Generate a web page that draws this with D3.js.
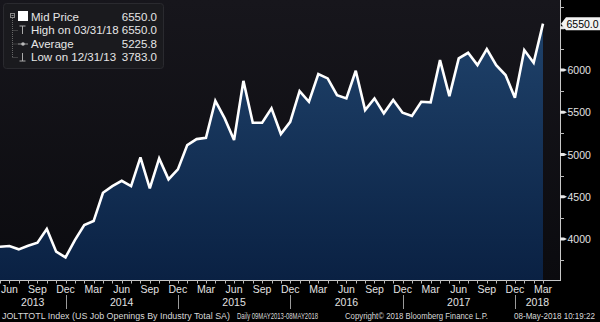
<!DOCTYPE html>
<html>
<head>
<meta charset="utf-8">
<script src="https://cdn.jsdelivr.net/npm/d3@7.9.0/dist/d3.min.js"></script>
<style>
  html, body { margin: 0; padding: 0; background: #000; }
  svg { display: block; font-family: "Liberation Sans", Arial, sans-serif; }
</style>
</head>
<body>
<svg id="chart" width="600" height="322"></svg>
<script>
// monthly JOLTS job openings (thousands), month-end points
const months = [
  '2013-05','2013-06','2013-07','2013-08','2013-09','2013-10','2013-11','2013-12',
  '2014-01','2014-02','2014-03','2014-04','2014-05','2014-06','2014-07','2014-08','2014-09','2014-10','2014-11','2014-12',
  '2015-01','2015-02','2015-03','2015-04','2015-05','2015-06','2015-07','2015-08','2015-09','2015-10','2015-11','2015-12',
  '2016-01','2016-02','2016-03','2016-04','2016-05','2016-06','2016-07','2016-08','2016-09','2016-10','2016-11','2016-12',
  '2017-01','2017-02','2017-03','2017-04','2017-05','2017-06','2017-07','2017-08','2017-09','2017-10','2017-11','2017-12',
  '2018-01','2018-02','2018-03'
];
const values = [
  3909, 3917, 3878, 3921, 3956, 4118, 3850, 3783,
  3988, 4166, 4213, 4548, 4627, 4690, 4627, 4967, 4600, 4955, 4706, 4825,
  5112, 5183, 5199, 5637, 5428, 5172, 5873, 5376, 5376, 5547, 5243, 5388,
  5751, 5625, 5953, 5902, 5704, 5665, 5992, 5527, 5665, 5488, 5645, 5495,
  5456, 5625, 5618, 6118, 5692, 6138, 6205, 6059, 6248, 6059, 5941, 5672,
  6237, 6086, 6550
];
const yTicks = [4000, 4500, 5000, 5500, 6000, 6500];
const yMinorTicks = [3750, 4250, 4750, 5250, 5750, 6250, 6750];
const labelMonths = ['Mar', 'Jun', 'Sep', 'Dec'];
const avgValue = 5225.8;
const highDate = '03/31/18';
const lowDate = '12/31/13';

const plotW = 560, plotH = 280;
const parse = d3.timeParse('%Y-%m');
const fmtMonth = d3.timeFormat('%b');
const fmtYear = d3.timeFormat('%Y');
const data = months.map((m, i) => ({ key: m, date: parse(m), value: values[i] }));

const x = d3.scalePoint().domain(months).range([0, 543]);
const y = d3.scaleLinear().domain([3515, 6830]).range([plotH, 0]);

const svg = d3.select('#chart');
const defs = svg.append('defs');

const bg = defs.append('linearGradient').attr('id', 'bg').attr('x1', 0).attr('y1', 0).attr('x2', 0).attr('y2', 1);
bg.append('stop').attr('offset', '0%').attr('stop-color', '#17161c');
bg.append('stop').attr('offset', '100%').attr('stop-color', '#0b0b0f');

const fill = defs.append('linearGradient').attr('id', 'areaFill')
  .attr('gradientUnits', 'userSpaceOnUse').attr('x1', 0).attr('y1', 0).attr('x2', 0).attr('y2', plotH);
fill.append('stop').attr('offset', '0%').attr('stop-color', '#21456e');
fill.append('stop').attr('offset', '100%').attr('stop-color', '#0a2143');

// plot background
svg.append('rect').attr('x', 0).attr('y', 0).attr('width', plotW).attr('height', plotH).attr('fill', 'url(#bg)');

// area + line
const area = d3.area().x(d => x(d.key)).y0(plotH).y1(d => y(d.value));
const line = d3.line().x(d => x(d.key)).y(d => y(d.value));

svg.append('path').datum(data).attr('d', area).attr('fill', 'url(#areaFill)');
svg.append('path').datum(data).attr('d', line)
  .attr('fill', 'none').attr('stroke', '#fff').attr('stroke-width', 2.6)
  .attr('stroke-linejoin', 'miter').attr('stroke-miterlimit', 3);

// frame
svg.append('line').attr('x1', 0).attr('x2', plotW).attr('y1', plotH + 0.5).attr('y2', plotH + 0.5)
  .attr('stroke', '#c8c8c8').attr('stroke-width', 1);
svg.append('line').attr('x1', plotW + 0.5).attr('x2', plotW + 0.5).attr('y1', 0).attr('y2', plotH + 1)
  .attr('stroke', '#c8c8c8').attr('stroke-width', 1);

// y axis ticks + labels
svg.selectAll('.minor').data(yMinorTicks).join('line')
  .attr('x1', plotW).attr('x2', plotW + 4)
  .attr('y1', d => Math.round(y(d)) + 0.5).attr('y2', d => Math.round(y(d)) + 0.5)
  .attr('stroke', '#bbb').attr('stroke-width', 1);

svg.selectAll('.major').data(yTicks).join('path')
  .attr('d', d => {
    const ty = y(d);
    return `M${plotW},${ty - 1.5}L${plotW + 4},${ty - 1.5}L${plotW + 7},${ty}L${plotW + 4},${ty + 1.5}L${plotW},${ty + 1.5}Z`;
  })
  .attr('fill', '#e6e6e6');

// last value marker (hides the tick label it sits on, as in the terminal)
const last = data[data.length - 1];
const ly = y(last.value);
const visibleTicks = yTicks.filter(t => Math.abs(y(t) - ly) > 12);

svg.selectAll('.ylab').data(visibleTicks).join('text')
  .attr('x', plotW + 7.5).attr('y', d => y(d) + 4)
  .attr('fill', '#e2e2e2').attr('font-size', 10.5)
  .text(d => d);

svg.append('path')
  .attr('d', `M${plotW + 1},${ly}L${plotW + 6},${ly - 6.5}L600,${ly - 6.5}L600,${ly + 6.5}L${plotW + 6},${ly + 6.5}Z`)
  .attr('fill', '#f2f2f2');
svg.append('text').attr('x', plotW + 6.5).attr('y', ly + 4)
  .attr('fill', '#000').attr('font-size', 10.5).text(last.value.toFixed(1));

// x axis: month ticks
svg.selectAll('.mtick').data(data).join('line')
  .attr('x1', d => Math.round(x(d.key)) + 0.5).attr('x2', d => Math.round(x(d.key)) + 0.5)
  .attr('y1', plotH).attr('y2', plotH + 3.5)
  .attr('stroke', '#bbb').attr('stroke-width', 1);

const quarterData = data.filter(d => labelMonths.includes(fmtMonth(d.date)));
svg.selectAll('.mlab').data(quarterData).join('text')
  .attr('x', d => Math.max(x(d.key), 8)).attr('y', 293)
  .attr('text-anchor', 'middle')
  .attr('fill', '#e2e2e2').attr('font-size', 10.5)
  .text(d => fmtMonth(d.date));

// year labels + separators
const years = Array.from(new Set(data.map(d => fmtYear(d.date))));
const decs = data.filter(d => fmtMonth(d.date) === 'Dec');
svg.selectAll('.ysep').data(decs).join('line')
  .attr('x1', d => Math.round(x(d.key)) + 0.5).attr('x2', d => Math.round(x(d.key)) + 0.5)
  .attr('y1', 295).attr('y2', 309)
  .attr('stroke', '#9a9a9a').attr('stroke-width', 1);

svg.selectAll('.yrlab').data(years).join('text')
  .attr('x', yr => {
    const prevDec = decs.find(d => fmtYear(d.date) === String(+yr - 1));
    const thisDec = decs.find(d => fmtYear(d.date) === yr);
    const x0 = prevDec ? x(prevDec.key) : 0;
    const x1 = thisDec ? x(thisDec.key) : plotW;
    return (x0 + x1) / 2;
  })
  .attr('y', 306)
  .attr('text-anchor', 'middle')
  .attr('fill', '#e2e2e2').attr('font-size', 10.5)
  .text(yr => yr);

// footer
const footer = [
  { t: 'JOLTTOTL Index (US Job Openings By Industry Total SA)', x: 2, w: 228 },
  { t: 'Daily 09MAY2013-08MAY2018', x: 237, w: 81 },
  { t: 'Copyright\u00a9 2018 Bloomberg Finance L.P.', x: 345, w: 143 },
  { t: '08-May-2018 10:19:22', x: 514, w: 81 }
];
svg.selectAll('.foot').data(footer).join('text')
  .attr('x', d => d.x).attr('y', 318.5)
  .attr('fill', '#d8d8d8').attr('font-size', 8.5)
  .attr('textLength', d => d.w).attr('lengthAdjust', 'spacingAndGlyphs')
  .text(d => d.t);

// legend
const lg = svg.append('g');
lg.append('rect').attr('x', 3.5).attr('y', 3.5).attr('width', 160).attr('height', 65).attr('rx', 3)
  .attr('fill', '#1a1a1e').attr('stroke', '#2a2a2f');

const legendRows = [
  { label: 'Mid Price', value: last.value.toFixed(1) },
  { label: `High on ${highDate}`, value: d3.max(values).toFixed(1) },
  { label: 'Average', value: avgValue.toFixed(1) },
  { label: `Low on ${lowDate}`, value: d3.min(values).toFixed(1) }
];
const rowY = [16.5, 30, 43.5, 57];

// tree lines
lg.append('rect').attr('x', 10.5).attr('y', 13.5).attr('width', 4).attr('height', 4)
  .attr('fill', 'none').attr('stroke', '#888');
lg.append('line').attr('x1', 11.5).attr('x2', 13.5).attr('y1', 15.5).attr('y2', 15.5).attr('stroke', '#888');
lg.append('line').attr('x1', 12.5).attr('x2', 12.5).attr('y1', 18).attr('y2', rowY[3])
  .attr('stroke', '#666').attr('stroke-dasharray', '1,1');
rowY.slice(1).forEach(ry => {
  lg.append('line').attr('x1', 12.5).attr('x2', 18).attr('y1', ry + 0.5).attr('y2', ry + 0.5)
    .attr('stroke', '#666').attr('stroke-dasharray', '1,1');
});

// icons
lg.append('rect').attr('x', 18).attr('y', 11).attr('width', 10).attr('height', 10).attr('fill', '#fff');
lg.append('path').attr('d', `M19.5,${rowY[1] - 4}H25.5M22.5,${rowY[1] - 4}V${rowY[1] + 4}`)
  .attr('stroke', '#aaa').attr('fill', 'none');
lg.append('line').attr('x1', 18).attr('x2', 28).attr('y1', rowY[2] + 0.5).attr('y2', rowY[2] + 0.5).attr('stroke', '#999');
lg.append('circle').attr('cx', 23).attr('cy', rowY[2] + 0.5).attr('r', 1.8).attr('fill', '#bbb');
lg.append('path').attr('d', `M22.5,${rowY[3] - 4}V${rowY[3] + 4}M19.5,${rowY[3] + 4}H25.5`)
  .attr('stroke', '#aaa').attr('fill', 'none');

lg.selectAll('.ltxt').data(legendRows).join('text')
  .attr('x', 31).attr('y', (d, i) => rowY[i] + 4)
  .attr('fill', '#e6e6e6').attr('font-size', 11.5)
  .text(d => d.label);
lg.selectAll('.lval').data(legendRows).join('text')
  .attr('x', 157).attr('y', (d, i) => rowY[i] + 4)
  .attr('text-anchor', 'end')
  .attr('fill', '#e6e6e6').attr('font-size', 11.5)
  .text(d => d.value);
</script>
</body>
</html>
